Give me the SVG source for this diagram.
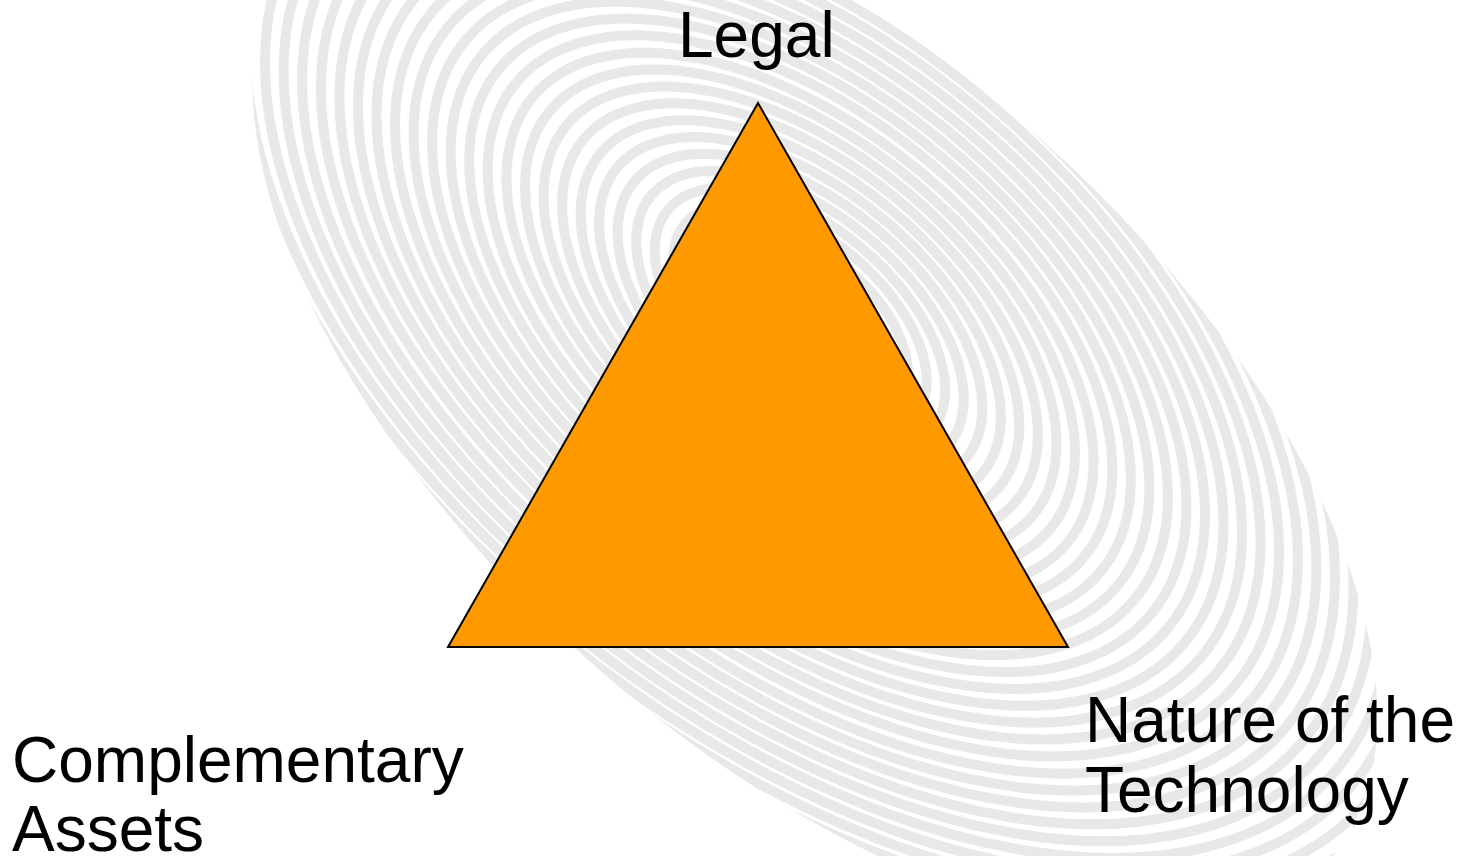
<svg xmlns="http://www.w3.org/2000/svg" width="1464" height="856" viewBox="0 0 1464 856">
<style>
.lbl{font-family:"Liberation Sans",Arial,sans-serif;font-size:64px;fill:#000}
.ridge{fill:none;stroke:#e8e8e8;stroke-width:10}
</style>
<defs>
<clipPath id="fpclip"><ellipse cx="815" cy="400" rx="690" ry="345" transform="rotate(42 815 400)"/></clipPath>
</defs>
<rect width="1464" height="856" fill="#fff"/>
<g id="fingerprint" clip-path="url(#fpclip)">
<g transform="rotate(40 800 320)">
<ellipse class="ridge" cx="800" cy="320" rx="40" ry="22"/>
<ellipse class="ridge" cx="800" cy="320" rx="62" ry="34"/>
<ellipse class="ridge" cx="800" cy="320" rx="84" ry="46"/>
<ellipse class="ridge" cx="800" cy="320" rx="106" ry="58"/>
<ellipse class="ridge" cx="800" cy="320" rx="128" ry="70"/>
<ellipse class="ridge" cx="800" cy="320" rx="150" ry="83"/>
<ellipse class="ridge" cx="800" cy="320" rx="172" ry="95"/>
<ellipse class="ridge" cx="800" cy="320" rx="194" ry="107"/>
<ellipse class="ridge" cx="800" cy="320" rx="216" ry="119"/>
<ellipse class="ridge" cx="800" cy="320" rx="238" ry="131"/>
<ellipse class="ridge" cx="800" cy="320" rx="260" ry="143"/>
<ellipse class="ridge" cx="800" cy="320" rx="282" ry="155"/>
<ellipse class="ridge" cx="800" cy="320" rx="304" ry="167"/>
<ellipse class="ridge" cx="800" cy="320" rx="326" ry="179"/>
<ellipse class="ridge" cx="800" cy="320" rx="348" ry="191"/>
<ellipse class="ridge" cx="800" cy="320" rx="370" ry="204"/>
<ellipse class="ridge" cx="800" cy="320" rx="392" ry="216"/>
<ellipse class="ridge" cx="800" cy="320" rx="414" ry="228"/>
<ellipse class="ridge" cx="800" cy="320" rx="436" ry="240"/>
<ellipse class="ridge" cx="800" cy="320" rx="458" ry="252"/>
<ellipse class="ridge" cx="800" cy="320" rx="480" ry="264"/>
<ellipse class="ridge" cx="800" cy="320" rx="502" ry="276"/>
<ellipse class="ridge" cx="800" cy="320" rx="524" ry="288"/>
<ellipse class="ridge" cx="800" cy="320" rx="546" ry="300"/>
<ellipse class="ridge" cx="800" cy="320" rx="568" ry="312"/>
<ellipse class="ridge" cx="800" cy="320" rx="590" ry="325"/>
<ellipse class="ridge" cx="800" cy="320" rx="612" ry="337"/>
<ellipse class="ridge" cx="800" cy="320" rx="634" ry="349"/>
<ellipse class="ridge" cx="800" cy="320" rx="656" ry="361"/>
<ellipse class="ridge" cx="800" cy="320" rx="678" ry="373"/>
<ellipse class="ridge" cx="800" cy="320" rx="700" ry="385"/>
<ellipse class="ridge" cx="800" cy="320" rx="722" ry="397"/>
<ellipse class="ridge" cx="800" cy="320" rx="744" ry="409"/>
<ellipse class="ridge" cx="800" cy="320" rx="766" ry="421"/>
</g>
</g>
<g id="triangle">
<polygon points="758,103 448,647 1068,647" fill="#FF9900" stroke="#000" stroke-width="2" stroke-linejoin="miter"/>
</g>
<g id="label-legal"><text class="lbl" x="678" y="57">Legal</text></g>
<g id="label-complementary"><text class="lbl" x="12" y="782">Complementary</text><text class="lbl" x="12" y="851">Assets</text></g>
<g id="label-nature"><text class="lbl" x="1085" y="742">Nature of the</text><text class="lbl" x="1085" y="812">Technology</text></g>
</svg>
